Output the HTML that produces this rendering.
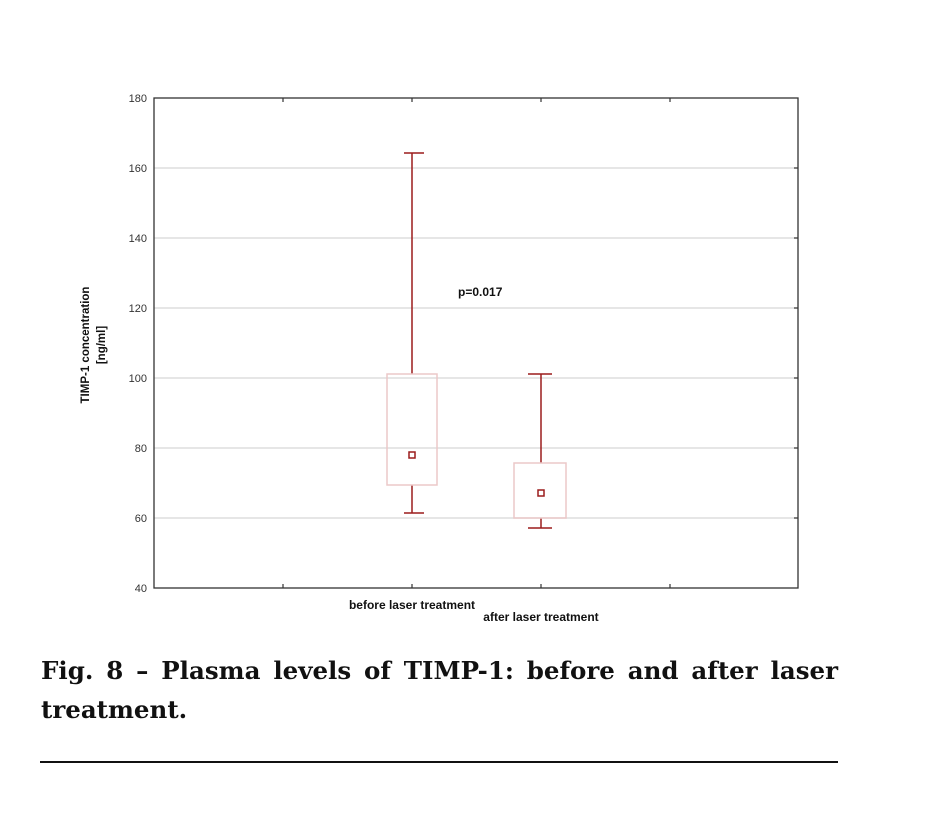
<!DOCTYPE html>
<html><head><meta charset="utf-8"><style>
body{margin:0;background:#fff;width:939px;height:832px;overflow:hidden;position:relative}
.cap{position:absolute;left:41px;width:797px;font-family:"DejaVu Serif","Liberation Serif",serif;font-weight:bold;font-size:24.5px;color:#111;white-space:nowrap}
</style></head><body>
<svg width="939" height="640" style="position:absolute;left:0;top:0" font-family="Liberation Sans, sans-serif">
<g stroke="#ddd" stroke-width="1.5">
<line x1="154" x2="798" y1="168" y2="168"/><line x1="154" x2="798" y1="238" y2="238"/>
<line x1="154" x2="798" y1="308" y2="308"/><line x1="154" x2="798" y1="378" y2="378"/>
<line x1="154" x2="798" y1="448" y2="448"/><line x1="154" x2="798" y1="518" y2="518"/>
</g>
<rect x="154" y="98" width="644" height="490" fill="none" stroke="#333" stroke-width="1.3"/>
<g stroke="#333" stroke-width="1.2">
<line x1="283" x2="283" y1="588" y2="584"/><line x1="412" x2="412" y1="588" y2="584"/>
<line x1="541" x2="541" y1="588" y2="584"/><line x1="670" x2="670" y1="588" y2="584"/>
<line x1="283" x2="283" y1="98" y2="102"/><line x1="412" x2="412" y1="98" y2="102"/>
<line x1="541" x2="541" y1="98" y2="102"/><line x1="670" x2="670" y1="98" y2="102"/>
<line x1="794" x2="798" y1="168" y2="168"/><line x1="794" x2="798" y1="238" y2="238"/>
<line x1="794" x2="798" y1="308" y2="308"/><line x1="794" x2="798" y1="378" y2="378"/>
<line x1="794" x2="798" y1="448" y2="448"/><line x1="794" x2="798" y1="518" y2="518"/>
</g>
<g font-size="11" fill="#333" text-anchor="end">
<text x="147" y="102">180</text><text x="147" y="172">160</text><text x="147" y="242">140</text>
<text x="147" y="312">120</text><text x="147" y="382">100</text><text x="147" y="452">80</text>
<text x="147" y="522">60</text><text x="147" y="592">40</text>
</g>
<g stroke="#9b1c1c" stroke-width="1.5" fill="none">
<line x1="412" x2="412" y1="153" y2="374"/><line x1="404" x2="424" y1="153" y2="153"/>
<line x1="412" x2="412" y1="485" y2="513"/><line x1="404" x2="424" y1="513" y2="513"/>
<line x1="541" x2="541" y1="374" y2="463"/><line x1="528" x2="552" y1="374" y2="374"/>
<line x1="541" x2="541" y1="518" y2="528"/><line x1="528" x2="552" y1="528" y2="528"/>
<rect x="409" y="452" width="6" height="6"/><rect x="538" y="490" width="6" height="6"/>
</g>
<g stroke="#ecc8c8" stroke-width="1.5" fill="none">
<rect x="387" y="374" width="50" height="111"/><rect x="514" y="463" width="52" height="55"/>
</g>
<text x="458" y="296" font-size="12" font-weight="bold" fill="#111">p=0.017</text>
<text x="412" y="609" font-size="12" font-weight="bold" fill="#111" text-anchor="middle">before laser treatment</text>
<text x="541" y="621" font-size="12" font-weight="bold" fill="#111" text-anchor="middle">after laser treatment</text>
<g font-size="11.5" font-weight="bold" fill="#111" text-anchor="middle">
<text transform="translate(89,345) rotate(-90)">TIMP-1 concentration</text>
<text transform="translate(105,345) rotate(-90)">[ng/ml]</text>
</g>
</svg>
<div class="cap" style="top:656px;text-align:justify;text-align-last:justify;white-space:normal">Fig. 8 – Plasma levels of TIMP-1: before and after laser</div>
<div class="cap" style="top:695px">treatment.</div>
<div style="position:absolute;left:40px;top:761px;width:798px;height:1.5px;background:#111"></div>
</body></html>
